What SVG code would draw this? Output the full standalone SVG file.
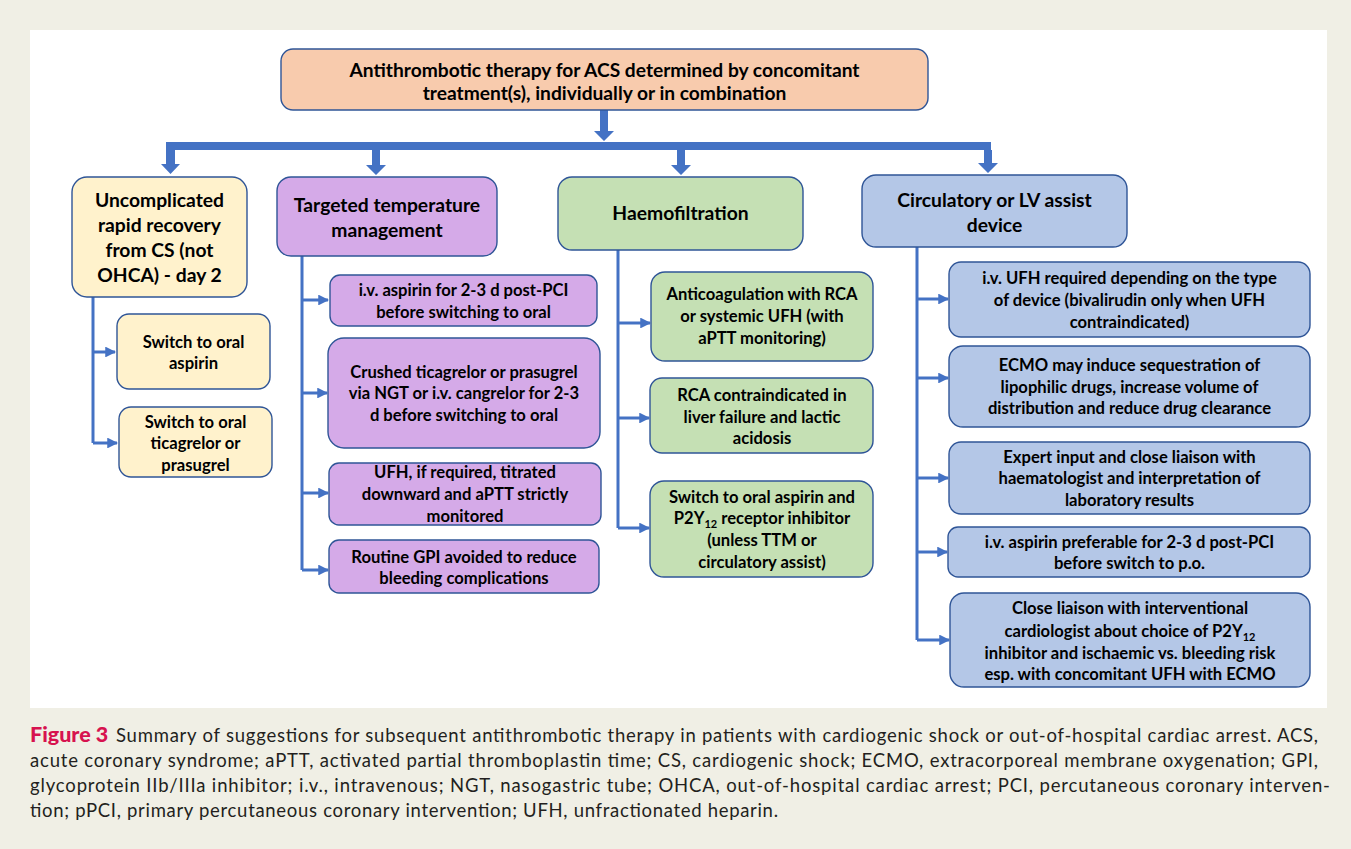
<svg xmlns="http://www.w3.org/2000/svg" width="1351" height="849" viewBox="0 0 1351 849">
<defs>
<style>
.bx{stroke:#2f5597;stroke-width:1.4}
.top{fill:#f8cbad}
.yel{fill:#fff2cc}
.pur{fill:#d5aae8}
.grn{fill:#c5e0b4}
.blu{fill:#b4c7e7}
text{font-family:Lato,"Open Sans","Liberation Sans",sans-serif;fill:#000;text-anchor:middle;font-weight:bold}
.t17{font-size:19.2px}
.t18{font-size:19.3px}
.t15{font-size:16.6px}
.ln{stroke:#4472c4;stroke-width:3;fill:none}
.ar{fill:#4472c4}
.cap{font-family:Lato,"Open Sans",sans-serif;font-weight:normal;text-anchor:start;font-size:18.5px;fill:#231f20}
.sub{font-size:11px}
</style>
<marker id="ah" viewBox="0 0 10 10" refX="9" refY="5" markerWidth="3.6" markerHeight="3.6" orient="auto" markerUnits="strokeWidth">
<path d="M0,0 L10,5 L0,10 z" fill="#4472c4"/>
</marker>
</defs>
<rect x="0" y="0" width="1351" height="849" fill="#f0efe5"/>
<rect x="30" y="30" width="1297" height="678" fill="#ffffff"/>

<g id="connectors">
<polygon class="ar" points="600,110 608,110 608,131 614,131 604,141 594,131 600,131"/>
<rect class="ar" x="166" y="142" width="825" height="8"/>
<polygon class="ar" points="166,150 175,150 175,164 180,164 170.5,174 161,164 166,164"/>
<polygon class="ar" points="372,150 380,150 380,165 386,165 376,175 366,165 372,165"/>
<polygon class="ar" points="677,150 685,150 685,165 691,165 681,175 671,165 677,165"/>
<polygon class="ar" points="984,150 992,150 992,163 998,163 988,173 978,163 984,163"/>
<path class="ln" d="M93,297 V443"/>
<path class="ln" d="M93,352 H115" marker-end="url(#ah)"/>
<path class="ln" d="M93,443 H117" marker-end="url(#ah)"/>
<path class="ln" d="M302,256 V570"/>
<path class="ln" d="M302,300 H328" marker-end="url(#ah)"/>
<path class="ln" d="M302,393 H327" marker-end="url(#ah)"/>
<path class="ln" d="M302,493 H328" marker-end="url(#ah)"/>
<path class="ln" d="M302,570 H328" marker-end="url(#ah)"/>
<path class="ln" d="M618,250 V528"/>
<path class="ln" d="M618,323 H650" marker-end="url(#ah)"/>
<path class="ln" d="M618,418 H649" marker-end="url(#ah)"/>
<path class="ln" d="M618,528 H649" marker-end="url(#ah)"/>
<path class="ln" d="M917,247 V640"/>
<path class="ln" d="M917,299 H948" marker-end="url(#ah)"/>
<path class="ln" d="M917,378 H948" marker-end="url(#ah)"/>
<path class="ln" d="M917,478 H948" marker-end="url(#ah)"/>
<path class="ln" d="M917,552 H947" marker-end="url(#ah)"/>
<path class="ln" d="M917,640 H949" marker-end="url(#ah)"/>
</g>

<g id="n-top">
<rect class="bx top" x="281" y="49" width="647" height="61" rx="12"/>
<text class="t17" x="604.5" y="77">Antithrombotic therapy for ACS determined by concomitant</text>
<text class="t17" x="604.5" y="100">treatment(s), individually or in combination</text>
</g>

<g id="n-uncomplicated">
<rect class="bx yel" x="72" y="177" width="175" height="120" rx="15"/>
<text class="t18" x="159.5" y="207">Uncomplicated</text>
<text class="t18" x="159.5" y="232">rapid recovery</text>
<text class="t18" x="159.5" y="257">from CS (not</text>
<text class="t18" x="159.5" y="282">OHCA) - day 2</text>
</g>
<g id="n-aspirin">
<rect class="bx yel" x="117" y="314" width="153" height="75" rx="12"/>
<text class="t15" x="193.5" y="348">Switch to oral</text>
<text class="t15" x="193.5" y="369">aspirin</text>
</g>
<g id="n-ticag">
<rect class="bx yel" x="119" y="407" width="153" height="70" rx="12"/>
<text class="t15" x="195.5" y="428">Switch to oral</text>
<text class="t15" x="195.5" y="449">ticagrelor or</text>
<text class="t15" x="195.5" y="471">prasugrel</text>
</g>

<g id="n-ttm">
<rect class="bx pur" x="277" y="177" width="220" height="79" rx="14"/>
<text class="t18" x="387" y="212">Targeted temperature</text>
<text class="t18" x="387" y="237">management</text>
</g>
<g id="n-ttm1">
<rect class="bx pur" x="330" y="275" width="267" height="51" rx="10"/>
<text class="t15" x="463.5" y="296">i.v. aspirin for 2-3 d post-PCI</text>
<text class="t15" x="463.5" y="318">before switching to oral</text>
</g>
<g id="n-ttm2">
<rect class="bx pur" x="328" y="338" width="272" height="110" rx="16"/>
<text class="t15" x="464" y="378">Crushed ticagrelor or prasugrel</text>
<text class="t15" x="464" y="399">via NGT or i.v. cangrelor for 2-3</text>
<text class="t15" x="464" y="421">d before switching to oral</text>
</g>
<g id="n-ttm3">
<rect class="bx pur" x="329" y="463" width="272" height="62" rx="10"/>
<text class="t15" x="465" y="478">UFH, if required, titrated</text>
<text class="t15" x="465" y="500">downward and aPTT strictly</text>
<text class="t15" x="465" y="522">monitored</text>
</g>
<g id="n-ttm4">
<rect class="bx pur" x="329" y="540" width="270" height="53" rx="10"/>
<text class="t15" x="464" y="563">Routine GPI avoided to reduce</text>
<text class="t15" x="464" y="584">bleeding complications</text>
</g>

<g id="n-haemo">
<rect class="bx grn" x="558" y="177" width="245" height="73" rx="14"/>
<text class="t18" x="680.5" y="220">Haemofiltration</text>
</g>
<g id="n-h1">
<rect class="bx grn" x="651" y="272" width="222" height="89" rx="14"/>
<text class="t15" x="762" y="300">Anticoagulation with RCA</text>
<text class="t15" x="762" y="322">or systemic UFH (with</text>
<text class="t15" x="762" y="344">aPTT monitoring)</text>
</g>
<g id="n-h2">
<rect class="bx grn" x="650" y="378" width="223" height="75" rx="12"/>
<text class="t15" x="762" y="401">RCA contraindicated in</text>
<text class="t15" x="762" y="423">liver failure and lactic</text>
<text class="t15" x="762" y="444">acidosis</text>
</g>
<g id="n-h3">
<rect class="bx grn" x="650" y="481" width="223" height="96" rx="14"/>
<text class="t15" x="762" y="503">Switch to oral aspirin and</text>
<text class="t15" x="762" y="524">P2Y<tspan class="sub" dy="4">12</tspan><tspan dy="-4"> receptor inhibitor</tspan></text>
<text class="t15" x="762" y="546">(unless TTM or</text>
<text class="t15" x="762" y="568">circulatory assist)</text>
</g>

<g id="n-circ">
<rect class="bx blu" x="862" y="175" width="265" height="72" rx="14"/>
<text class="t18" x="994.5" y="207">Circulatory or LV assist</text>
<text class="t18" x="994.5" y="232">device</text>
</g>
<g id="n-c1">
<rect class="bx blu" x="949" y="262" width="361" height="75" rx="12"/>
<text class="t15" x="1129.5" y="284">i.v. UFH required depending on the type</text>
<text class="t15" x="1129.5" y="306">of device (bivalirudin only when UFH</text>
<text class="t15" x="1129.5" y="328">contraindicated)</text>
</g>
<g id="n-c2">
<rect class="bx blu" x="949" y="346" width="361" height="81" rx="14"/>
<text class="t15" x="1129.5" y="371">ECMO may induce sequestration of</text>
<text class="t15" x="1129.5" y="393">lipophilic drugs, increase volume of</text>
<text class="t15" x="1129.5" y="414">distribution and reduce drug clearance</text>
</g>
<g id="n-c3">
<rect class="bx blu" x="949" y="442" width="361" height="72" rx="12"/>
<text class="t15" x="1129.5" y="463">Expert input and close liaison with</text>
<text class="t15" x="1129.5" y="484">haematologist and interpretation of</text>
<text class="t15" x="1129.5" y="506">laboratory results</text>
</g>
<g id="n-c4">
<rect class="bx blu" x="948" y="527" width="362" height="50" rx="10"/>
<text class="t15" x="1129.5" y="548">i.v. aspirin preferable for 2-3 d post-PCI</text>
<text class="t15" x="1129.5" y="569">before switch to p.o.</text>
</g>
<g id="n-c5">
<rect class="bx blu" x="950" y="593" width="360" height="94" rx="14"/>
<text class="t15" x="1130" y="614">Close liaison with interventional</text>
<text class="t15" x="1130" y="637">cardiologist about choice of P2Y<tspan class="sub" dy="4">12</tspan></text>
<text class="t15" x="1130" y="659">inhibitor and ischaemic vs. bleeding risk</text>
<text class="t15" x="1130" y="680">esp. with concomitant UFH with ECMO</text>
</g>

<g id="caption">
<text x="30" y="742" style="text-anchor:start;font-size:21.5px;font-weight:900;fill:#d7124f;font-family:Lato,'Open Sans',sans-serif">Figure 3</text>
<text class="cap" x="116" y="742" textLength="1202" lengthAdjust="spacing">Summary of suggestions for subsequent antithrombotic therapy in patients with cardiogenic shock or out-of-hospital cardiac arrest. ACS,</text>
<text class="cap" x="30" y="767" textLength="1288" lengthAdjust="spacing">acute coronary syndrome; aPTT, activated partial thromboplastin time; CS, cardiogenic shock; ECMO, extracorporeal membrane oxygenation; GPI,</text>
<text class="cap" x="30" y="792" textLength="1300" lengthAdjust="spacing">glycoprotein IIb/IIIa inhibitor; i.v., intravenous; NGT, nasogastric tube; OHCA, out-of-hospital cardiac arrest; PCI, percutaneous coronary interven-</text>
<text class="cap" x="30" y="817" textLength="748" lengthAdjust="spacing">tion; pPCI, primary percutaneous coronary intervention; UFH, unfractionated heparin.</text>
</g>
</svg>
